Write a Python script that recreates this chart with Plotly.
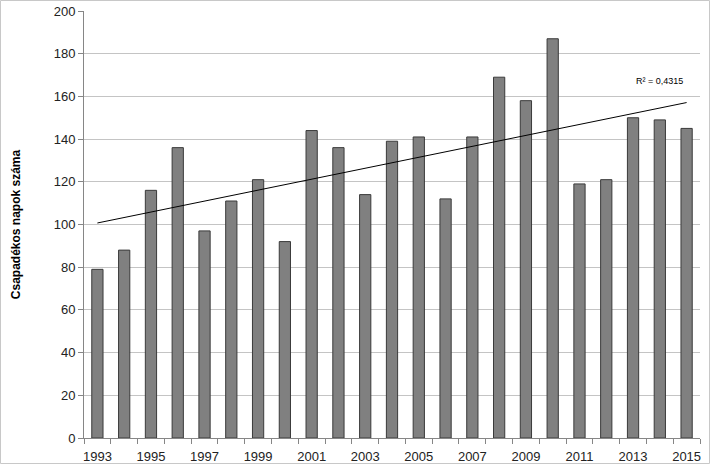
import numpy as np
import plotly.graph_objects as go

years = list(range(1993, 2016))
values = [79, 88, 116, 136, 97, 111, 121, 92, 144, 136, 114, 139, 141, 112, 141,
          169, 158, 187, 119, 121, 150, 149, 145]
y_ticks = list(range(0, 201, 20))
x_labels = list(range(1993, 2016, 2))
r2_text = "R² = 0,4315"
y_title = "Csapadékos napok száma"

W, H = 710, 464
L, R, T, B = 84, 10, 11, 26
pw, ph = W - L - R, H - T - B

slope, intercept = np.polyfit(years, values, 1)
trend = [slope * x + intercept for x in years]

fig = go.Figure()
fig.add_trace(go.Bar(x=years, y=values, marker=dict(color="#808080",
                     line=dict(color="#3a3a3a", width=1)), width=0.42,
                     showlegend=False, hoverinfo="skip"))
fig.add_trace(go.Scatter(x=years, y=trend, mode="lines",
                         line=dict(color="#000000", width=1), showlegend=False,
                         hoverinfo="skip"))

fig.add_annotation(x=2014.0, y=167, text=r2_text, showarrow=False,
                   font=dict(family="Liberation Sans", size=9, color="#000000"))

fig.add_shape(type="rect", xref="paper", yref="paper",
              x0=-(L - 0.5) / pw, x1=(W - 0.5 - L) / pw,
              y0=-(B - 0.5) / ph, y1=1 + (T - 0.5) / ph,
              line=dict(color="#c8c8c8", width=1))

fig.update_layout(
    width=W, height=H, margin=dict(l=L, r=R, t=T, b=B, autoexpand=False),
    paper_bgcolor="white", plot_bgcolor="white",
    font=dict(family="Liberation Sans", size=13, color="#222222"),
    xaxis=dict(range=[1992.5, 2015.5], tickvals=x_labels, automargin=False,
               ticktext=[str(x) for x in x_labels], ticks="outside", ticklen=6,
               tickcolor="rgba(0,0,0,0)", showgrid=False,
               showline=True, linecolor="#868686", linewidth=1,
               tickfont=dict(size=13, color="#222222"),
               minor=dict(tickvals=[y + 0.5 for y in range(1992, 2016)],
                          ticks="outside", ticklen=5, tickcolor="#868686",
                          showgrid=False),
               zeroline=False),
    yaxis=dict(range=[0, 200], tickvals=y_ticks, showgrid=True, automargin=False,
               gridcolor="#c4c4c4", gridwidth=1, showline=True,
               linecolor="#868686", linewidth=1, ticks="outside", ticklen=5,
               tickcolor="#868686", zeroline=False,
               tickfont=dict(size=13, color="#222222"),
               title=dict(text="<b>" + y_title + "</b>", standoff=30,
                          font=dict(size=12, color="#000000"))),
)

fig.write_html("out.html")
